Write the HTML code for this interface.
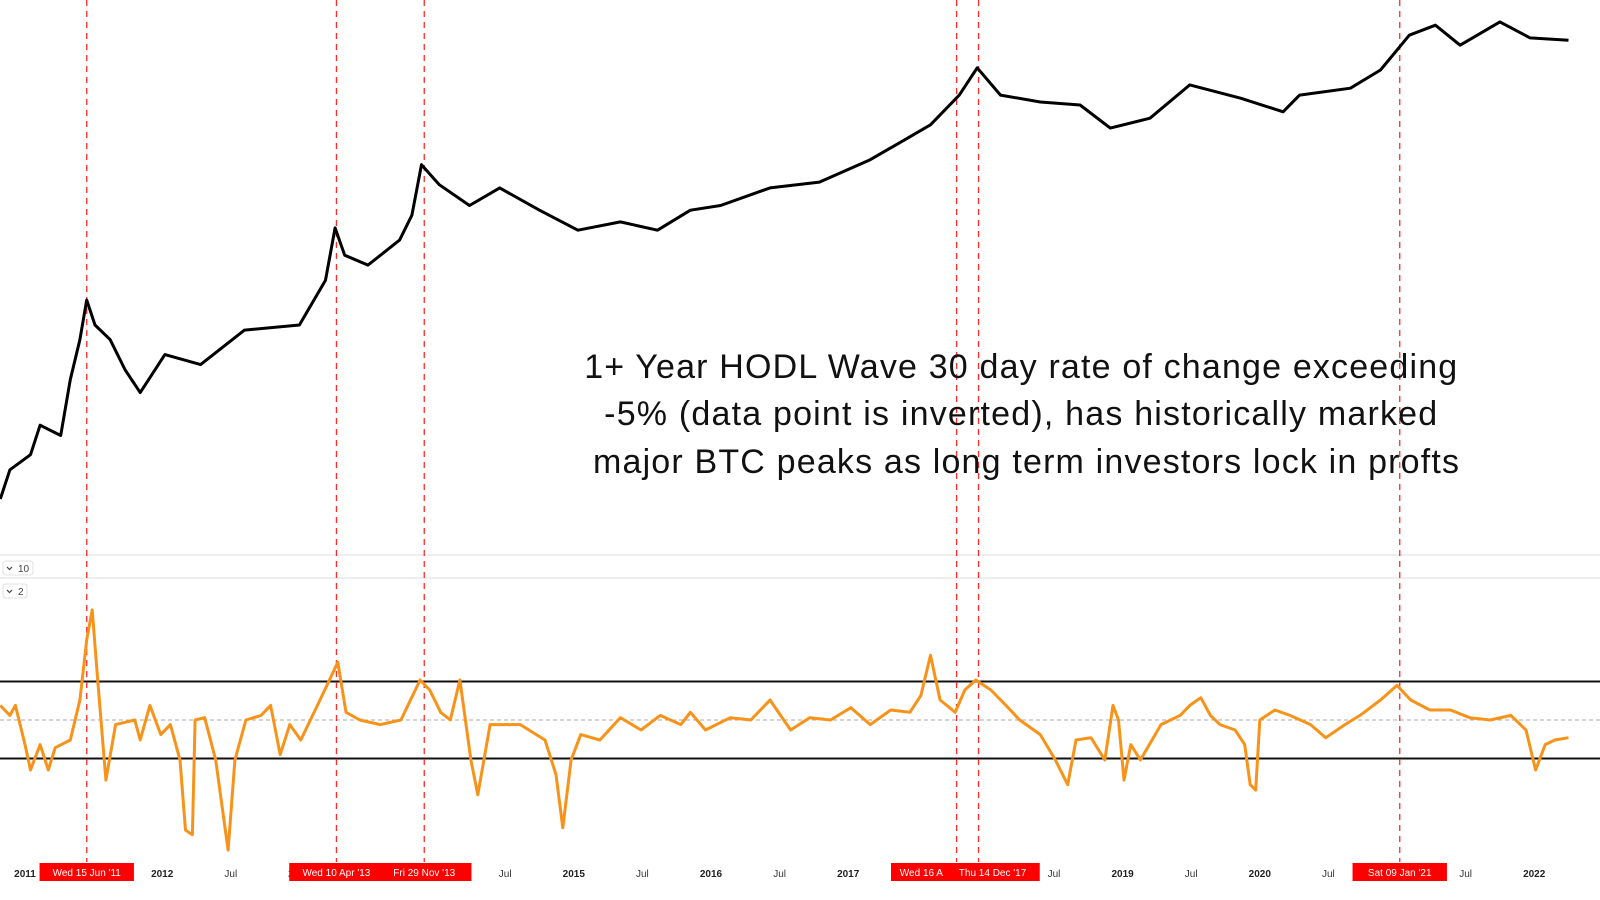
<!DOCTYPE html>
<html><head><meta charset="utf-8"><style>
html,body{margin:0;padding:0;background:#fff;width:1600px;height:900px;overflow:hidden;}
svg{display:block;position:absolute;left:0;top:0;font-family:"Liberation Sans",sans-serif;}
</style></head><body>
<svg id="chart" width="1600" height="900" viewBox="0 0 1600 900" xmlns="http://www.w3.org/2000/svg">
<rect width="1600" height="900" fill="#fff"/>
<g id="panes"></g>
<g id="vlines"></g>
<g id="price"></g>
<g id="osc"></g>
<g id="xaxis"></g>
<text font-size="34" fill="#111" text-anchor="middle" lengthAdjust="spacing">
<tspan x="1026" y="378" textLength="873">1+ Year HODL Wave 30 day rate of change exceeding</tspan>
<tspan x="1026" y="425" textLength="833">-5% (data point is inverted), has historically marked</tspan>
<tspan x="1026" y="473" textLength="866">major BTC peaks as long term investors lock in profts</tspan>
</text>
</svg>
<script>
const priceYears=[2010.82,2010.89,2011.04,2011.11,2011.26,2011.33,2011.40,2011.45,2011.51,2011.62,2011.73,2011.84,2012.02,2012.28,2012.60,2013.00,2013.19,2013.26,2013.33,2013.50,2013.73,2013.82,2013.89,2014.02,2014.24,2014.46,2014.75,2015.03,2015.34,2015.61,2015.85,2016.07,2016.43,2016.79,2017.16,2017.41,2017.60,2017.81,2017.94,2018.11,2018.40,2018.69,2018.91,2019.20,2019.49,2019.86,2020.17,2020.29,2020.66,2020.88,2021.09,2021.28,2021.46,2021.75,2021.97,2022.25];
const priceValues=[0.12,0.27,0.41,0.93,0.70,3.3,10,30,15,10,4.3,2.3,6.6,5,13,15,52,222,104,79,158,315,1280,735,413,673,362,208,262,208,362,413,673,789,1470,2550,3870,8830,18800,8830,7290,6700,3530,4650,11700,8100,5560,8830,10700,17700,46500,61400,35200,67300,43200,40400];
const oscYears=[2010.82,2010.89,2010.93,2011.00,2011.04,2011.11,2011.17,2011.22,2011.33,2011.40,
2011.45,2011.49,2011.53,2011.59,2011.66,2011.80,2011.84,2011.91,2011.99,2012.06,
2012.13,2012.17,2012.22,2012.24,2012.31,2012.39,2012.48,2012.53,2012.61,2012.72,
2012.79,2012.86,2012.93,2013.01,2013.15,2013.28,2013.34,2013.44,2013.59,2013.74,
2013.81,2013.88,2013.95,2014.03,2014.10,2014.17,2014.25,2014.30,2014.39,2014.61,
2014.79,2014.87,2014.92,2014.98,2015.05,2015.19,2015.34,2015.49,2015.63,2015.78,
2015.85,2015.96,2016.14,2016.29,2016.43,2016.58,2016.72,2016.87,2017.02,2017.16,
2017.31,2017.45,2017.53,2017.60,2017.67,2017.78,2017.85,2017.93,2018.04,2018.15,
2018.25,2018.40,2018.51,2018.60,2018.66,2018.77,2018.87,2018.93,2018.97,2019.01,
2019.06,2019.13,2019.28,2019.42,2019.49,2019.57,2019.64,2019.71,2019.82,2019.89,
2019.93,2019.97,2020.00,2020.11,2020.22,2020.37,2020.48,2020.62,2020.73,2020.88,
2021.00,2021.10,2021.24,2021.39,2021.53,2021.68,2021.83,2021.94,2022.01,2022.08,
2022.15,2022.25];
const oscValues=[1.9,0.6,1.9,-3.2,-6.5,-3.2,-6.5,-3.6,-2.6,2.6,
10.4,14.3,5.2,-7.8,-0.6,0,-2.6,1.9,-1.9,-0.6,
-5.2,-14.3,-14.9,0,0.3,-5.2,-16.9,-5.2,0,0.6,
1.9,-4.5,-0.6,-2.6,2.6,7.5,1.0,0,-0.6,0,
2.6,5.2,3.9,1.0,0,5.2,-5.2,-9.7,-0.6,-0.6,
-2.6,-7.1,-14.0,-5.2,-1.9,-2.6,0.3,-1.3,0.6,-0.6,
1.0,-1.3,0.3,0,2.6,-1.3,0.3,0,1.6,-0.6,
1.3,1.0,3.2,8.4,2.6,1.0,3.9,5.2,3.9,1.9,
0,-1.9,-5.2,-8.4,-2.6,-2.3,-5.2,1.9,0,-7.8,
-3.2,-5.2,-0.6,0.6,1.9,2.9,0.6,-0.6,-1.3,-3.2,
-8.4,-9.1,0,1.3,0.6,-0.6,-2.3,-0.6,0.6,2.6,
4.5,2.6,1.3,1.3,0.3,0,0.6,-1.3,-6.5,-3.2,
-2.6,-2.3];
const thresholds=[5,-5];
const markerYears=[2011.45,2013.27,2013.91,2017.79,2017.95,2021.02];
const markerLabels=["Wed 15 Jun '11","Wed 10 Apr '13","Fri 29 Nov '13","Wed 16 A","Thu 14 Dec '17","Sat 09 Jan '21"];
const yearTicks=[2011,2012,2015,2016,2017,2019,2020,2022];
const julTicks=[2012.5,2014.5,2015.5,2016.5,2018.5,2019.5,2020.5,2021.5];

const NS="http://www.w3.org/2000/svg";
function xs(t){return 25+(t-2011)*137.2;}
function yPrice(p){return 300-(Math.log10(p)-Math.log10(30))*83;}
function yOsc(v){return 720-v*7.7;}
function mk(tag,attrs,parent){const e=document.createElementNS(NS,tag);for(const k in attrs)e.setAttribute(k,attrs[k]);parent.appendChild(e);return e;}

const panes=document.getElementById('panes');
let l1=mk('line',{x1:0,x2:1600,y1:555,y2:555,stroke:'#e8e8ec','stroke-width':1.5},panes);


let l2=mk('line',{x1:0,x2:1600,y1:578,y2:578,stroke:'#e8e8ec','stroke-width':1.5},panes);


[["10",561],["2",584]].forEach(([t,y])=>{
  const g=mk('g',{},panes);
  
  
  mk('rect',{x:3,y:y,width:t.length>1?30:24,height:14,rx:3,fill:'#fff',stroke:'#e0e0e4'},g);
  mk('path',{d:`M7 ${y+6} l2.5 2.5 l2.5 -2.5`,fill:'none',stroke:'#444','stroke-width':1.2},g);
  const tx=mk('text',{x:18,y:y+11,'font-size':10,fill:'#444'},g);tx.textContent=t;
});
thresholds.forEach(v=>{
  const l=mk('line',{x1:0,x2:1600,y1:yOsc(v),y2:yOsc(v),stroke:'#111','stroke-width':2},panes);
  
  
});
const zl=mk('line',{x1:0,x2:1600,y1:yOsc(0),y2:yOsc(0),stroke:'#aaa','stroke-width':1,'stroke-dasharray':'4 3'},panes);



const vl=document.getElementById('vlines');
markerYears.forEach(t=>{
  const l=mk('line',{x1:xs(t),x2:xs(t),y1:0,y2:862,stroke:'#ff2a2a','stroke-width':1.3,'stroke-dasharray':'6 5'},vl);
  
  
});

const pg=document.getElementById('price');
const pl=mk('polyline',{points:priceYears.map((t,i)=>xs(t).toFixed(1)+','+yPrice(priceValues[i]).toFixed(1)).join(' '),fill:'none',stroke:'#000','stroke-width':3,'stroke-linejoin':'round'},pg);



const og=document.getElementById('osc');
const ol=mk('polyline',{points:oscYears.map((t,i)=>xs(t).toFixed(1)+','+yOsc(oscValues[i]).toFixed(1)).join(' '),fill:'none',stroke:'#f7931a','stroke-width':3,'stroke-linejoin':'round'},og);



const xa=document.getElementById('xaxis');
yearTicks.forEach(y=>{
  const t=mk('text',{x:xs(y),y:877,'font-size':10,'font-weight':'bold',fill:'#222','text-anchor':'middle'},xa);
  t.textContent=String(y);
  
  
});
julTicks.forEach(y=>{
  const t=mk('text',{x:xs(y),y:877,'font-size':10,fill:'#333','text-anchor':'middle'},xa);
  t.textContent='Jul';
  
  
});
const t13=mk('text',{x:xs(2013),y:877,'font-size':10,'font-weight':'bold',fill:'#222','text-anchor':'middle'},xa);
t13.textContent='2013';


markerYears.forEach((t,i)=>{
  const g=mk('g',{},xa);
  
  
  const w=markerLabels[i].length*5.6+16;
  let x0=xs(t)-w/2;
  if(i===3){x0=891;}
  if(i===4){x0=xs(t)-w/2+14;}
  mk('rect',{x:x0,y:863,width:w,height:18,fill:'#ff0000'},g);
  const tx=mk('text',{x:x0+w/2,y:876,'font-size':10,fill:'#fff','text-anchor':'middle'},g);
  tx.textContent=markerLabels[i];
});
</script>
</body></html>
